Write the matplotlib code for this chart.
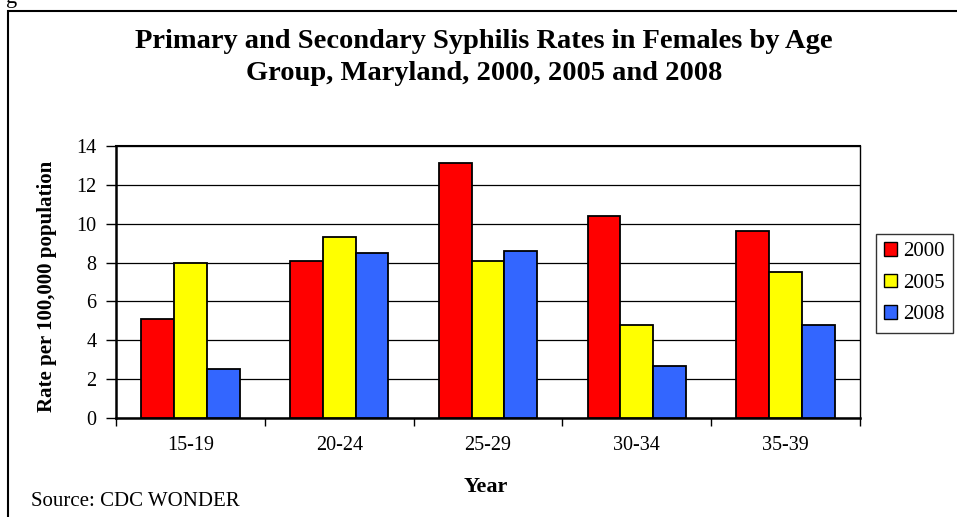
import numpy as np
import matplotlib
matplotlib.use("Agg")
import matplotlib.pyplot as plt
from matplotlib.patches import Rectangle, Patch

plt.rcParams['font.family'] = ['Liberation Serif', 'DejaVu Serif']

# ── data ──────────────────────────────────────────────────────────────────────
age_groups = ["15-19", "20-24", "25-29", "30-34", "35-39"]
years = ["2000", "2005", "2008"]
rates_2000 = [5.1, 8.1, 13.1, 10.4, 9.6]
rates_2005 = [8.0, 9.3, 8.1, 4.8, 7.5]
rates_2008 = [2.5, 8.5, 8.6, 2.7, 4.8]
colors = ["#FF0000", "#FFFF00", "#3366FF"]

# ── figure ────────────────────────────────────────────────────────────────────
W, H = 957, 517
fig = plt.figure(figsize=(W / 100, H / 100), dpi=100)

def fx(px):
    return px / W

def fy(py):
    return 1 - py / H

ax = fig.add_axes([fx(116), fy(418), fx(860) - fx(116), fy(146) - fy(418)])

x = np.arange(len(age_groups))
w = 0.22
series = [rates_2000, rates_2005, rates_2008]
for i, (vals, c) in enumerate(zip(series, colors)):
    ax.bar(x + (i - 1) * w, vals, width=w, color=c, edgecolor="black",
           linewidth=1.3, zorder=3)

ax.set_xlim(-0.5, len(age_groups) - 0.5)
ax.set_ylim(0, 14)
ax.set_yticks(np.arange(0, 15, 2))
ax.yaxis.grid(True, color="black", linewidth=0.9, zorder=0)
ax.set_axisbelow(True)

ax.set_xticks(x)
ax.set_xticklabels(age_groups, fontsize=14.5)
ax.tick_params(axis="x", which="major", length=0, pad=13)
ax.set_xticks(np.arange(-0.5, len(age_groups)), minor=True)
ax.tick_params(axis="x", which="minor", length=6, width=1, direction="out")
ax.tick_params(axis="y", labelsize=14.5, length=7, width=1, direction="out", pad=7)

for s in ax.spines.values():
    s.set_linewidth(1.0)
ax.spines["left"].set_linewidth(1.8)
ax.spines["bottom"].set_linewidth(1.8)
ax.spines["top"].set_linewidth(1.5)

# ── text ──────────────────────────────────────────────────────────────────────
fig.text(fx(484), fy(42), "Primary and Secondary Syphilis Rates in Females by Age",
         ha="center", va="center", fontsize=20.5, fontweight="bold")
fig.text(fx(484), fy(74), "Group, Maryland, 2000, 2005 and 2008",
         ha="center", va="center", fontsize=20.5, fontweight="bold")
fig.text(fx(47), fy(286), "Rate per 100,000 population", rotation=90,
         ha="center", va="center", fontsize=15, fontweight="bold")
fig.text(fx(486), fy(487), "Year", ha="center", va="center",
         fontsize=16, fontweight="bold")
fig.text(fx(31), fy(502), "Source: CDC WONDER", ha="left", va="center",
         fontsize=15)
fig.text(fx(6), fy(3), "g", ha="left", va="baseline", fontsize=16)

# ── legend ────────────────────────────────────────────────────────────────────
handles = [Patch(facecolor=c, edgecolor="black", linewidth=1.0) for c in colors]
leg = fig.legend(handles, years, loc="upper left",
                 bbox_to_anchor=(fx(876), fy(234)), fontsize=15,
                 frameon=True, fancybox=False, edgecolor="black",
                 handlelength=0.6, handleheight=0.6, handletextpad=0.3,
                 labelspacing=0.6, borderpad=0.4, borderaxespad=0)
leg.get_frame().set_linewidth(1.0)

# outer border (runs off the right and bottom edges)
fig.patches.append(Rectangle((fx(8), -0.2), 1.2, fy(11) + 0.2,
                             transform=fig.transFigure, fill=False,
                             edgecolor="black", linewidth=1.5))

fig.savefig("out.png", dpi=100)
